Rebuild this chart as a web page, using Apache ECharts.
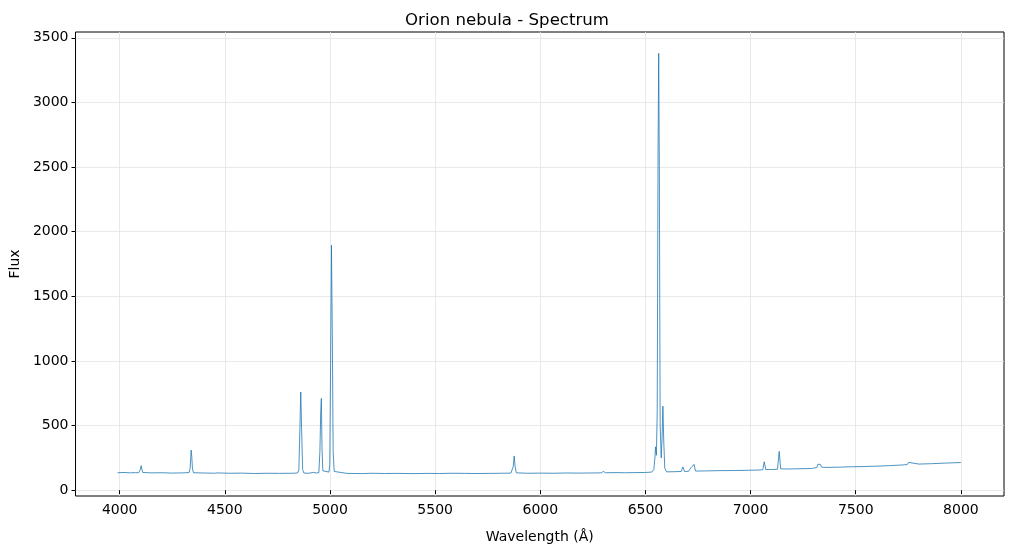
<!DOCTYPE html>
<html>
<head>
<meta charset="utf-8">
<title>Orion nebula - Spectrum</title>
<script src="https://cdn.jsdelivr.net/npm/echarts@6/dist/echarts.min.js"></script>
<style>
  html, body { margin: 0; padding: 0; background: #fff; }
  #chart { width: 1014px; height: 549px; }
</style>
</head>
<body>
<div id="chart"></div>
<script>
// wavelength (Å) and flux
const wavelength = [
  3990, 4020, 4050, 4075, 4090, 4094, 4098, 4102, 4106, 4110, 4150, 4200, 4250, 4300,
  4330, 4335, 4338, 4340, 4343, 4346, 4351, 4400, 4450, 4465, 4471, 4477, 4520, 4580,
  4640, 4700, 4760, 4820, 4846, 4852, 4857, 4861, 4865, 4870, 4876, 4900, 4922, 4935,
  4947, 4952, 4956, 4959, 4962, 4966, 4975, 4995, 4999, 5003, 5007, 5011, 5015, 5020,
  5028, 5080, 5150, 5200, 5260, 5320, 5400, 5460, 5520, 5580, 5640, 5700, 5760, 5820,
  5860, 5866, 5871, 5876, 5880, 5886, 5940, 6000, 6060, 6120, 6180, 6240, 6290, 6300,
  6310, 6364, 6400, 6450, 6500, 6530, 6540, 6545, 6548, 6552, 6556, 6560, 6563, 6566,
  6570, 6575, 6579, 6583, 6587, 6592, 6600, 6640, 6670, 6678, 6686, 6705, 6717, 6722,
  6731, 6738, 6780, 6850, 6920, 6990, 7040, 7058, 7065, 7072, 7100, 7128, 7136, 7143,
  7180, 7240, 7290, 7315, 7320, 7326, 7331, 7338, 7360, 7420, 7480, 7540, 7600, 7660,
  7720, 7745, 7751, 7757, 7800, 7860, 7920, 8000
];
const flux = [
  135, 137, 134, 136, 134, 138, 160, 190, 158, 137, 134, 135, 132, 134,
  136, 170, 260, 310, 255, 165, 135, 133, 131, 134, 148, 133, 131, 132,
  129, 131, 130, 131, 133, 160, 480, 760, 470, 160, 132, 131, 138, 133,
  136, 300, 610, 710, 330, 150, 135, 140, 200, 1000, 1895, 1200, 300, 145,
  133, 130, 128, 131, 129, 130, 128, 130, 129, 131, 130, 129, 130, 131,
  132, 134, 180, 265, 185, 134, 131, 132, 131, 133, 132, 133, 134, 145,
  135, 136, 135, 136, 137, 140, 160, 250, 335, 270, 600, 2600, 3380, 2500,
  500, 250, 400, 650, 380, 170, 142, 143, 145, 180, 145, 146, 175, 160,
  200, 148, 149, 151, 152, 154, 156, 158, 220, 160, 160, 162, 300, 165,
  164, 166, 168, 175, 200, 190, 200, 178, 176, 178, 181, 183, 186, 190,
  195, 198, 215, 200, 202, 205, 209, 214
];
const xTicks = [4000, 4500, 5000, 5500, 6000, 6500, 7000, 7500, 8000];
const yTicks = [0, 500, 1000, 1500, 2000, 2500, 3000, 3500];

const chart = echarts.init(document.getElementById('chart'));
const font = 'DejaVu Sans';

chart.setOption({
  animation: false,
  title: {
    text: 'Orion nebula - Spectrum',
    left: 'center',
    top: 7,
    textStyle: { fontFamily: font, fontSize: 16.6, fontWeight: 'normal', color: '#000' }
  },
  grid: {
    left: 74, right: 10, top: 32, bottom: 52,
    show: true, borderColor: '#000', borderWidth: 1
  },
  xAxis: {
    type: 'value',
    min: 3790, max: 8205,
    name: 'Wavelength (Å)',
    nameLocation: 'middle',
    nameGap: 34,
    nameTextStyle: { fontFamily: font, fontSize: 14, color: '#000' },
    axisLine: { show: false },
    axisTick: { customValues: xTicks, length: 4, lineStyle: { color: '#000' } },
    axisLabel: {
      customValues: xTicks, formatter: v => String(v),
      fontFamily: font, fontSize: 14, color: '#000', margin: 7
    },
    splitLine: { show: true, lineStyle: { color: '#e3e3e3', width: 0.8 } }
  },
  yAxis: {
    type: 'value',
    min: -45, max: 3545,
    name: 'Flux',
    nameLocation: 'middle',
    nameGap: 52,
    nameTextStyle: { fontFamily: font, fontSize: 14, color: '#000' },
    axisLine: { show: false },
    axisTick: { show: true, customValues: yTicks, length: 4, lineStyle: { color: '#000' } },
    axisLabel: {
      customValues: yTicks, formatter: v => String(v),
      fontFamily: font, fontSize: 14, color: '#000', margin: 7
    },
    splitLine: { show: true, lineStyle: { color: '#e3e3e3', width: 0.8 } }
  },
  series: [{
    type: 'line',
    data: wavelength.map((w, i) => [w, flux[i]]),
    showSymbol: false,
    lineStyle: { color: '#1f77b4', width: 0.8 }
  }]
});
</script>
</body>
</html>
